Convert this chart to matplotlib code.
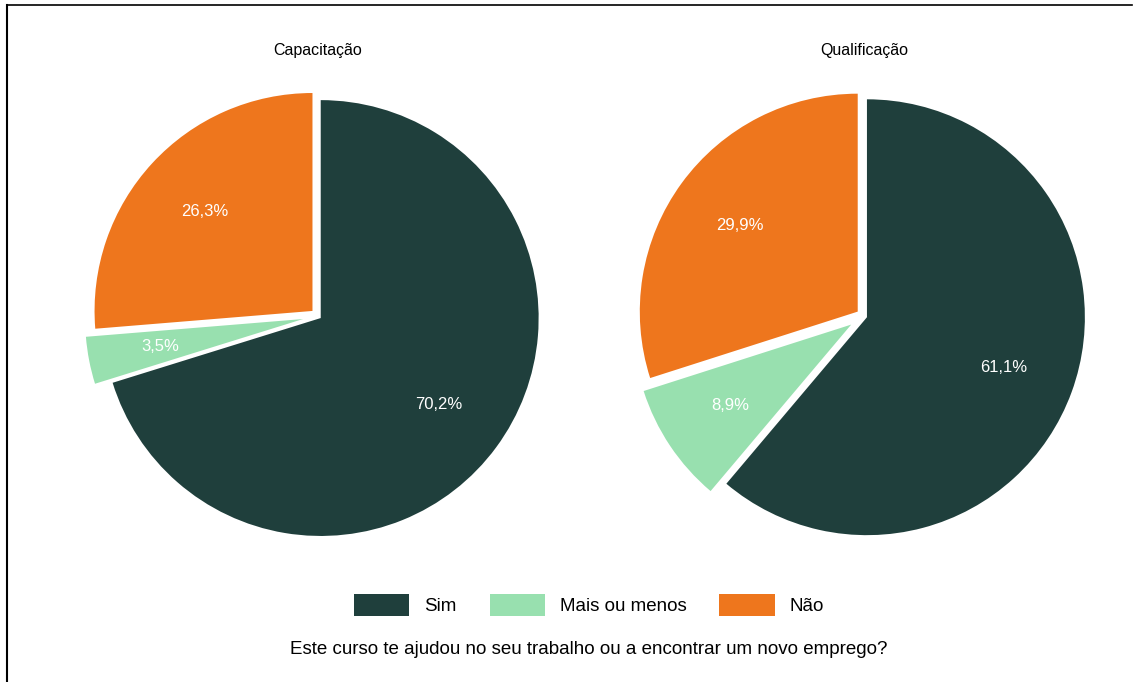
import matplotlib.pyplot as plt
from matplotlib.patches import Patch
from matplotlib.lines import Line2D

plt.rcParams['font.family'] = ['Liberation Sans', 'DejaVu Sans']

categorias = ["Sim", "Mais ou menos", "Não"]
cores = ["#1f3f3c", "#98e0af", "#ee761d"]
titulos = ["Capacitação", "Qualificação"]
capacitacao = [70.2, 3.5, 26.3]
qualificacao = [61.1, 8.9, 29.9]
pergunta = "Este curso te ajudou no seu trabalho ou a encontrar um novo emprego?"

explode = [0.015, 0.07, 0.035]
lim = 1.15

fig = plt.figure(figsize=(11.34, 6.82), dpi=100)

# two pies side by side, fixed limits so both have the same radius
posicoes = [[0.0595, 0.169, 0.442, 0.735], [0.5408, 0.169, 0.442, 0.735]]
for pos, titulo, valores in zip(posicoes, titulos, [capacitacao, qualificacao]):
    ax = fig.add_axes(pos)
    wedges, texts, autotexts = ax.pie(
        valores, colors=cores, startangle=90, counterclock=False,
        explode=explode, autopct="%.1f", pctdistance=0.67,
        textprops={"color": "white", "fontsize": 12}, wedgeprops={"linewidth": 0})
    # show the survey values as given (they don't sum exactly to 100)
    for t, v in zip(autotexts, valores):
        t.set_text(f"{v:.1f}%".replace(".", ","))
    ax.set_xlim(-lim, lim)
    ax.set_ylim(-lim, lim)
    ax.set_aspect("equal")
    ax.axis("off")
    fig.text(pos[0] + pos[2] / 2, 1 - 50 / 682, titulo, ha="center", va="center",
             fontsize=11.5)

handles = [Patch(facecolor=c, edgecolor="none", label=l) for c, l in zip(cores, categorias)]
fig.legend(handles=handles, loc="center", bbox_to_anchor=(0.5195, 1 - 605 / 682), ncol=3,
           frameon=False, fontsize=13.5, handlelength=2.95, handleheight=1.35,
           handletextpad=0.8, columnspacing=1.75)

fig.text(0.519, 1 - 649 / 682, pergunta, ha="center", va="center", fontsize=13.5)

# frame lines on top and left
fig.add_artist(Line2D([7 / 1134, 7 / 1134], [0, 1 - 5 / 682], color="black", lw=1.5,
                      transform=fig.transFigure))
fig.add_artist(Line2D([7 / 1134, 1132 / 1134], [1 - 5 / 682, 1 - 5 / 682], color="black",
                      lw=1.2, transform=fig.transFigure))

fig.savefig("out.png", dpi=100)
